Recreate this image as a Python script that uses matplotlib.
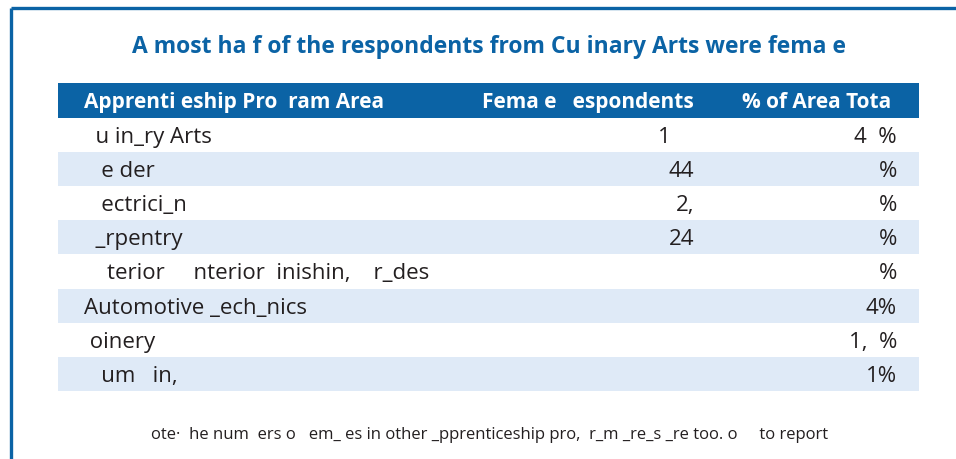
import matplotlib.pyplot as plt
from matplotlib.patches import Rectangle

# Table content (as it appears in the reference, including missing glyphs)
title = "A most ha f of the respondents from Cu inary Arts were fema e"
headers = ["Apprenti eship Pro  ram Area", "Fema e   espondents", "% of Area Tota "]
areas = ["  u in_ry Arts", "   e der", "   ectrici_n", "  _rpentry",
         "    terior     nterior  inishin,    r_des",
         "Automotive _ech_nics", " oinery", "   um   in,"]
female = ["1    ", "44", "2,", "24", "", "", "", ""]
pct = ["4  %", "%", "%", "%", "%", "4%", "1,  %", "1%"]
note = "ote·  he num  ers o   em_ es in other _pprenticeship pro,  r_m _re_s _re too. o     to report"

blue = "#0b63a5"
band = "#dfeaf7"
ink = "#231f20"
font = ["Open Sans", "DejaVu Sans"]

fig = plt.figure(figsize=(9.56, 4.59), dpi=100)
ax = fig.add_axes([0, 0, 1, 1])
ax.set_xlim(0, 956)
ax.set_ylim(459, 0)
ax.axis("off")

# frame: top and left rule
ax.plot([11, 956], [8, 8], color=blue, lw=2.4, solid_capstyle="butt")
ax.plot([11, 11], [8, 459], color=blue, lw=2.4, solid_capstyle="butt")

ax.text(489, 44, title, ha="center", va="center_baseline", color=blue,
        fontsize=16.5, fontweight="bold", family=font)

left, right = 58, 919
head_top, head_h, row_h = 83, 34.5, 34.2
col_x = [84, 694, 897]

ax.add_patch(Rectangle((left, head_top), right - left, head_h, color=blue, lw=0))
hy = head_top + head_h / 2
for x, h, ha in zip(col_x, headers, ["left", "right", "right"]):
    ax.text(x, hy, h, ha=ha, va="center_baseline", color="white",
            fontsize=15, fontweight="bold", family=font)

for i, (a, f, p) in enumerate(zip(areas, female, pct)):
    y0 = head_top + head_h + i * row_h
    if i % 2 == 1:
        ax.add_patch(Rectangle((left, y0), right - left, row_h, color=band, lw=0))
    yc = y0 + row_h / 2
    ax.text(col_x[0], yc, a, ha="left", va="center_baseline", color=ink,
            fontsize=16, family=font)
    ax.text(col_x[1], yc, f, ha="right", va="center_baseline", color=ink,
            fontsize=16, family=font)
    ax.text(col_x[2], yc, p, ha="right", va="center_baseline", color=ink,
            fontsize=16, family=font)

ax.text(490, 433, note, ha="center", va="center_baseline", color=ink,
        fontsize=12, family=font)

fig.savefig("out.png", dpi=100)
